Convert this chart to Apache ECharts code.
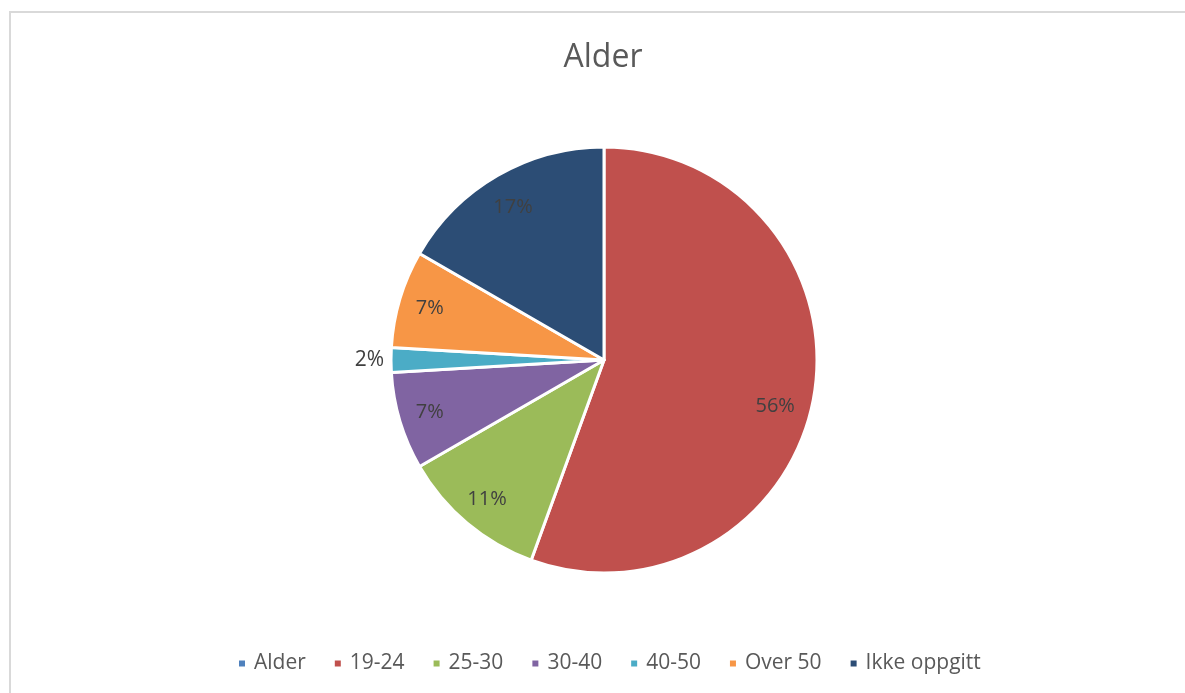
<!DOCTYPE html>
<html>
<head>
<meta charset="utf-8">
<script src="https://cdn.jsdelivr.net/npm/echarts@6/dist/echarts.min.js"></script>
<style>
html,body{margin:0;padding:0;background:#fff;}
#chart{width:1185px;height:693px;}
</style>
</head>
<body>
<div id="chart"></div>
<script>
const titleText = 'Alder';
const categories = ['Alder', '19-24', '25-30', '30-40', '40-50', 'Over 50', 'Ikke oppgitt'];
const values = [0, 30, 6, 4, 1, 4, 9];
const colors = ['#4F81BD', '#C0504D', '#9BBB59', '#8064A2', '#4BACC6', '#F79646', '#2C4D75'];
const outsideLabels = ['40-50'];

const FONT = '"Open Sans", sans-serif';
const R = 213;

const mainData = categories.map((c, i) => ({ name: c, value: values[i], itemStyle: { color: colors[i] } }));
const labelData = categories.map((c, i) => {
  const item = { name: c, value: values[i], itemStyle: { color: 'rgba(0,0,0,0)', borderWidth: 0 } };
  if (values[i] === 0) {
    item.label = { show: false };
  } else if (outsideLabels.includes(c)) {
    item.label = { position: 'outside', fontSize: 21 };
    item.labelLine = { show: false, length: 1, length2: 1 };
  } else if (c === '19-24') {
    item.label = { offset: [-8, 15] };
  } else if (c === 'Ikke oppgitt') {
    item.label = { offset: [0, 5] };
  }
  return item;
});

const chart = echarts.init(document.getElementById('chart'));
chart.setOption({
  animation: false,
  backgroundColor: '#ffffff',
  graphic: [{
    type: 'rect',
    shape: { x: 10, y: 12, width: 1200, height: 720 },
    style: { fill: 'none', stroke: '#d9d9d9', lineWidth: 2 },
    silent: true
  }],
  title: {
    text: titleText,
    left: 598,
    textAlign: 'center',
    top: 37,
    textStyle: { fontFamily: FONT, fontSize: 32, fontWeight: 'normal', color: '#595959' }
  },
  legend: {
    data: categories.map((c, i) => ({ name: c, itemStyle: { color: colors[i], opacity: 1 } })),
    left: 232,
    top: 648,
    icon: 'rect',
    itemWidth: 8,
    itemHeight: 8,
    itemGap: 27,
    selectedMode: false,
    textStyle: { fontFamily: FONT, fontSize: 21, color: '#595959', padding: [0, 0, 0, 3] }
  },
  series: [
    {
      type: 'pie',
      center: [604, 360],
      radius: [0, R],
      startAngle: 90,
      clockwise: true,
      data: mainData,
      label: { show: false },
      labelLine: { show: false },
      itemStyle: { borderColor: '#ffffff', borderWidth: 3 },
      emphasis: { disabled: true },
      silent: true
    },
    {
      type: 'pie',
      center: [604, 360],
      radius: [R * 0.68, R],
      startAngle: 90,
      clockwise: true,
      data: labelData,
      avoidLabelOverlap: false,
      label: {
        show: true,
        position: 'inside',
        formatter: p => Math.round(p.percent) + '%',
        fontFamily: FONT,
        fontSize: 20,
        color: '#404040'
      },
      labelLine: { show: false },
      emphasis: { disabled: true },
      silent: true
    }
  ]
});
</script>
</body>
</html>
